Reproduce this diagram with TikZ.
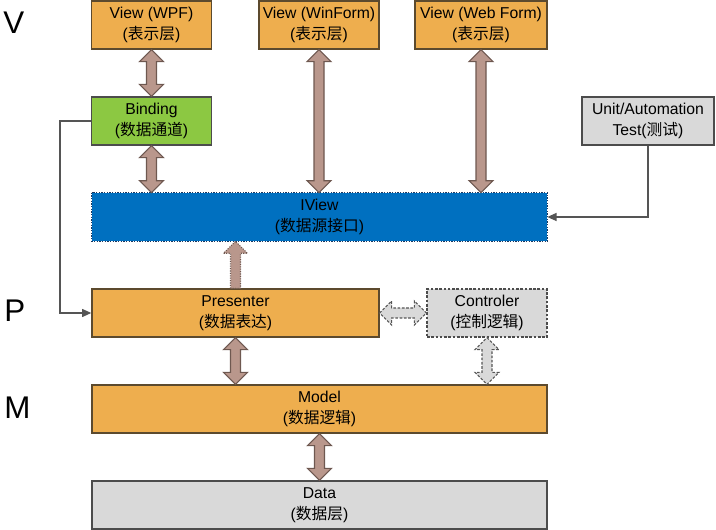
\documentclass[tikz,border=0pt]{standalone}
\usepackage{fontspec}
\setmainfont{Liberation Sans}
\newfontfamily\cjkfont{Noto Sans CJK SC}
\newcommand{\zhs}[1]{{\cjkfont #1}}
\usetikzlibrary{calc,positioning,arrows.meta}

\definecolor{boxorange}{RGB}{238,174,78}
\definecolor{boxgreen}{RGB}{140,200,66}
\definecolor{boxblue}{RGB}{0,112,192}
\definecolor{boxgrey}{RGB}{217,217,217}
\definecolor{arrfill}{RGB}{185,151,140}
\definecolor{arredge}{RGB}{110,88,80}
\definecolor{edgebrown}{RGB}{92,74,46}
\definecolor{linkgrey}{RGB}{85,85,85}
\definecolor{iviewedge}{RGB}{25,55,95}

\begin{document}
\begin{tikzpicture}[
            x=0.75pt, y=-0.75pt,
            every node/.style={align=center, inner sep=0pt, font=\fontsize{11.8}{15.5}\selectfont},
            layer/.style={draw=edgebrown, line width=1pt, minimum height=36pt, fill=boxorange},
            binder/.style={layer, fill=boxgreen, draw=black!70},
            iface/.style={minimum height=36pt, fill=boxblue, text=black},
            greybox/.style={layer, fill=boxgrey, draw=black!70},
            side/.style={anchor=west, font=\fontsize{23.5}{28}\selectfont},
            fat/.style={draw=arredge, fill=arrfill, line width=0.8pt},
            ctrl/.style={draw=linkgrey, fill=boxgrey, dash pattern=on 2pt off 1.2pt},
            dblv/.style={fat, to path={let \p1=(\tikztostart), \p2=(\tikztotarget) in
              (\x1,\y1) -- (\x1+9pt,\y1-9pt) -- (\x1+3.75pt,\y1-9pt) -- (\x1+3.75pt,\y2+9pt) -- (\x1+9pt,\y2+9pt)
              -- (\x1,\y2) -- (\x1-9pt,\y2+9pt) -- (\x1-3.75pt,\y2+9pt) -- (\x1-3.75pt,\y1-9pt) -- (\x1-9pt,\y1-9pt) -- cycle}},
            dblh/.style={fat, to path={let \p1=(\tikztostart), \p2=(\tikztotarget) in
              (\x1,\y1) -- (\x1+9pt,\y1+9pt) -- (\x1+9pt,\y1+3.75pt) -- (\x2-9pt,\y1+3.75pt) -- (\x2-9pt,\y1+9pt)
              -- (\x2,\y1) -- (\x2-9pt,\y1-9pt) -- (\x2-9pt,\y1-3.75pt) -- (\x1+9pt,\y1-3.75pt) -- (\x1+9pt,\y1-9pt) -- cycle}},
            upv/.style={fat, to path={let \p1=(\tikztostart), \p2=(\tikztotarget) in
              (\x1-3.75pt,\y1) -- (\x1-3.75pt,\y2-9pt) -- (\x1-9pt,\y2-9pt) -- (\x1,\y2) -- (\x1+9pt,\y2-9pt)
              -- (\x1+3.75pt,\y2-9pt) -- (\x1+3.75pt,\y1) -- cycle}},
            link/.style={draw=linkgrey, line width=1.1pt, -{Triangle[length=7pt,width=6pt]}}
  ]

  \useasboundingbox (0,0) rectangle (716,530);

  \node[side] (lv) at (3,23) {V};
  \node[side] (lp) at (4,311) {P};
  \node[side] (lm) at (4,408) {M};

  \node[layer, minimum width=90pt] (wpf) at (151.5,25) {View (WPF)\\(\zhs{表示层})};
  \node[layer, minimum width=90pt] (winform) at (319,25) {View (WinForm)\\(\zhs{表示层})};
  \node[layer, minimum width=99pt] (webform) at (481,25) {View (Web Form)\\(\zhs{表示层})};
  \node[binder, minimum width=90pt] (binding) at (151.5,121) {Binding\\(\zhs{数据通道})};
  \node[greybox, minimum width=99pt] (unittest) at (648,121) {Unit/Automation\\Test(\zhs{测试})};
  \node[iface, minimum width=341.25pt] (iview) at (319.5,217) {IView\\(\zhs{数据源接口})};
  \draw[iviewedge, line width=1pt, densely dotted] (iview.north west) rectangle (iview.south east);
  \node[layer, minimum width=215.25pt] (presenter) at (235.5,313) {Presenter\\(\zhs{数据表达})};
  \node[greybox, dash pattern=on 2pt off 1.2pt, minimum width=90pt] (controler) at (487,313) {Controler\\(\zhs{控制逻辑})};
  \node[layer, minimum width=341.25pt] (model) at (319.5,409) {Model\\(\zhs{数据逻辑})};
  \node[greybox, minimum width=341.25pt] (data) at (319.5,505) {Data\\(\zhs{数据层})};

  \path[dblv] (wpf.south) to (binding.north);
  \path[dblv] (binding.south) to (binding.south |- iview.north);
  \path[dblv] (winform.south) to (winform.south |- iview.north);
  \path[dblv] (webform.south) to (webform.south |- iview.north);
  \path[upv, densely dotted] (presenter.north) to (presenter.north |- iview.south);
  \path[dblv] (presenter.south) to (presenter.south |- model.north);
  \path[dblv] (model.south) to (data.north);

  \path[dblh, ctrl] (presenter.east) to (controler.west);
  \path[dblv, ctrl] (controler.south) to (controler.south |- model.north);

  \draw[link] (binding.west) -- ++(-31,0) |- (presenter.west);
  \draw[link] (unittest.south) |- (iview.east);

\end{tikzpicture}
\end{document}
